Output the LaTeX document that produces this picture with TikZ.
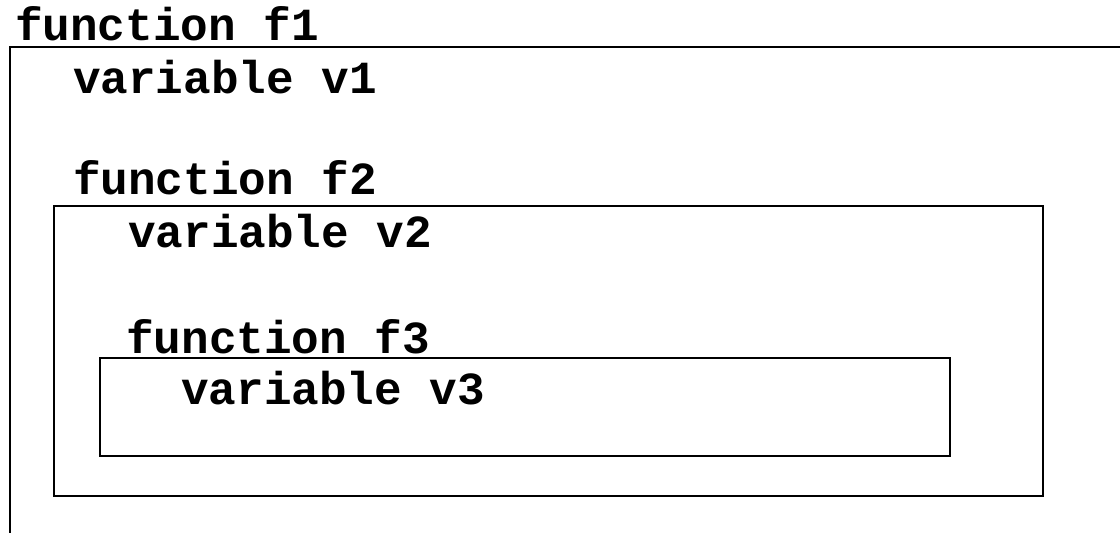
\documentclass[tikz,border=0pt]{standalone}
\usepackage{fontspec}
\setmonofont{Liberation Mono}
\usetikzlibrary{positioning}
\begin{document}
\begin{tikzpicture}[x=1pt,y=-1pt,
  codetext/.style={anchor=base west, inner sep=0pt, font=\fontsize{46}{55}\selectfont\ttfamily\bfseries},
  scopebox/.style={line width=2.5pt}]
        \useasboundingbox (0,0) rectangle (1120,533);
        \clip (0,0) rectangle (1120,533);
        % Define corners
        \coordinate (A1) at (10,47);
        \coordinate (B1) at (1150,570);
        \coordinate (A2) at (54,206);
        \coordinate (B2) at (1043,496);
        \coordinate (A3) at (100,358);
        \coordinate (B3) at (950,456);
        % Scopes
        \draw[scopebox] (A1) rectangle (B1);
        \draw[scopebox] (A2) rectangle (B2);
        \draw[scopebox] (A3) rectangle (B3);
        % Names
        \node[codetext] (f1) at (15,40) {function f1};
        \node[codetext] (v1) at (73,93) {variable v1};
        \node[codetext] (f2) at (73,194) {function f2};
        \node[codetext] (v2) at (128,247) {variable v2};
        \node[codetext] (f3) at (126,353) {function f3};
        \node[codetext] (v3) at (181,404) {variable v3};
\end{tikzpicture}
\end{document}
